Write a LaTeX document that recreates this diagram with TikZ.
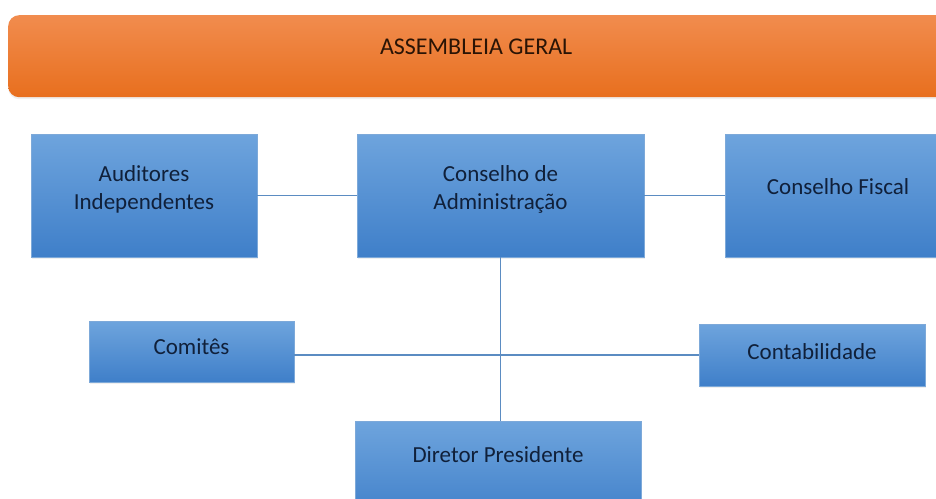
\documentclass[tikz,border=0pt]{standalone}
\usepackage{fontspec}
\setmainfont{Carlito}
\usetikzlibrary{shadows}
\definecolor{bluetop}{HTML}{6EA4DD}
\definecolor{bluebot}{HTML}{3F7FC9}
\definecolor{blueedge}{HTML}{7DA9D9}
\definecolor{orangetop}{HTML}{F18C4E}
\definecolor{orangebot}{HTML}{E86F1E}
\definecolor{linecol}{HTML}{5B8CC2}
\definecolor{navytext}{HTML}{10203A}
\definecolor{headtext}{HTML}{2A1405}
\tikzset{
  box/.style={rectangle, draw=blueedge, line width=0.8pt, top color=bluetop, bottom color=bluebot,
    inner sep=0pt, drop shadow={opacity=0.12, shadow xshift=1pt, shadow yshift=-2pt}},
  lbl/.style={font=\fontsize{23}{28}\selectfont, text=navytext, align=center},
  conn/.style={draw=linecol, line width=1.4pt}
}
\begin{document}
\begin{tikzpicture}[x=1pt, y=-1pt]
\useasboundingbox (0,0) rectangle (936,498);
\clip (0,0) rectangle (936,498);
\fill[white] (0,0) rectangle (936,498);
% header
\node[rectangle, rounded corners=11pt, top color=orangetop, bottom color=orangebot, draw=none,
  inner sep=0pt, minimum width=960pt, minimum height=82pt, anchor=north west,
  drop shadow={opacity=0.12, shadow xshift=0pt, shadow yshift=-2pt},
  label={[font=\fontsize{24}{28}\selectfont, text=headtext, xshift=-12pt, yshift=9pt]center:ASSEMBLEIA GERAL}]
  (ag) at (8,15) {};
% boxes
\node[box, minimum width=226pt, minimum height=123pt, label={[lbl, yshift=6pt]center:Auditores\\Independentes}] (aud) at (144,195.5) {};
\node[box, minimum width=287pt, minimum height=123pt, label={[lbl, yshift=6pt]center:Conselho de\\Administração}] (cad) at (500.5,195.5) {};
\node[box, minimum width=226pt, minimum height=123pt, label={[lbl, yshift=9pt]center:Conselho Fiscal}] (cf) at (838,195.5) {};
\node[box, minimum width=205pt, minimum height=61pt, label={[lbl, yshift=5pt]center:Comitês}] (com) at (191.5,351.5) {};
\node[box, minimum width=226pt, minimum height=62pt, label={[lbl, yshift=3pt]center:Contabilidade}] (cont) at (812,355) {};
\node[box, minimum width=286pt, minimum height=100pt, anchor=north, label={[lbl, anchor=north, yshift=-22pt]north:Diretor Presidente}] (dp) at (498,421) {};
% connectors
\draw[conn] (aud.east) -- (cad.west);
\draw[conn] (cad.east) -- (cf.west);
\draw[conn] (cad.south) -- (cad.south |- dp.north);
\draw[conn] (com.east |- cont.west) -- (cont.west);
\end{tikzpicture}
\end{document}
